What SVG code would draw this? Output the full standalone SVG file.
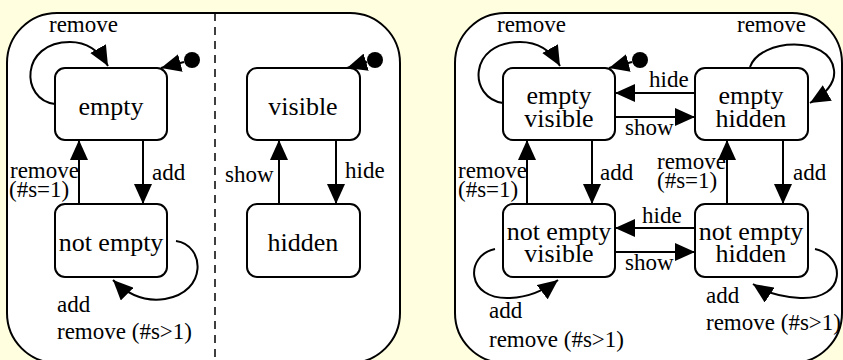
<svg xmlns="http://www.w3.org/2000/svg" width="843" height="360" viewBox="0 0 843 360" font-family="'Liberation Serif', 'Times New Roman', serif">
<defs>
<marker id="ah" markerUnits="userSpaceOnUse" markerWidth="20" markerHeight="18" refX="20" refY="9" orient="auto">
<path d="M0,0 L20,9 L0,18 z" fill="#000"/>
</marker>
<style>
.panel{fill:#fff;stroke:#000;stroke-width:2}
.node{fill:#fff;stroke:#000;stroke-width:2}
text{font-family:'Liberation Serif','Times New Roman',serif}
.nt{font-size:26px;text-anchor:middle;fill:#000}
.lb{font-size:23px;fill:#000}
.c{fill:none;stroke:#000;stroke-width:2;marker-end:url(#ah)}
.init{fill:#000}
</style>
</defs>
<rect width="843" height="360" fill="#ffffe0"/>
<g id="panel-left"><rect class="panel" x="7" y="13" width="393" height="350" rx="50"/>
<line x1="215" y1="13" x2="215" y2="362" stroke="#000" stroke-width="1.5" stroke-dasharray="8,6"/></g>
<g id="panel-right"><rect class="panel" x="455" y="13" width="387" height="350" rx="50"/></g>

<g id="empty"><rect class="node" x="55" y="68" width="112" height="72" rx="10"/><text class="nt" x="111" y="115">empty</text></g>
<g id="notempty"><rect class="node" x="55" y="204" width="112" height="73" rx="10"/><text class="nt" x="111" y="251">not empty</text></g>
<g id="visible"><rect class="node" x="247" y="68" width="113" height="72" rx="10"/><text class="nt" x="303" y="115">visible</text></g>
<g id="hidden"><rect class="node" x="247" y="204" width="113" height="73" rx="10"/><text class="nt" x="303" y="251">hidden</text></g>
<g id="init1"><circle class="init" cx="192" cy="60" r="8"/></g>
<g id="init2"><circle class="init" cx="375" cy="60" r="8"/></g>

<g id="empty-visible"><rect class="node" x="503" y="68" width="112" height="72" rx="10"/><text class="nt" x="559" y="104">empty</text><text class="nt" x="559" y="127">visible</text></g>
<g id="empty-hidden"><rect class="node" x="695" y="68" width="113" height="72" rx="10"/><text class="nt" x="751" y="104">empty</text><text class="nt" x="751" y="127">hidden</text></g>
<g id="notempty-visible"><rect class="node" x="503" y="204" width="112" height="73" rx="10"/><text class="nt" x="559" y="240">not empty</text><text class="nt" x="559" y="262">visible</text></g>
<g id="notempty-hidden"><rect class="node" x="695" y="204" width="113" height="73" rx="10"/><text class="nt" x="751" y="240">not empty</text><text class="nt" x="751" y="262">hidden</text></g>
<g id="init3"><circle class="init" cx="640" cy="60" r="8"/></g>

<g id="connectors">
<path class="c" d="M55,104 C20,100 20,42 70,42 C88,42 100,52 108,66"/>
<path class="c" d="M184,62 L161,68"/>
<path class="c" d="M143,140 L143,204"/>
<path class="c" d="M79,204 L79,140"/>
<path class="c" d="M176,241 C205,245 208,292 165,299 C145,302 128,295 113,280"/>
<path class="c" d="M367,62 L347,68"/>
<path class="c" d="M279,204 L279,140"/>
<path class="c" d="M336,140 L336,204"/>

<path class="c" d="M503,103 C468,98 468,42 520,42 C540,42 552,52 560,66"/>
<path class="c" d="M632,62 L609,68"/>
<path class="c" d="M695,93 L615,93"/>
<path class="c" d="M615,117 L695,117"/>
<path class="c" d="M592,140 L592,204"/>
<path class="c" d="M527,204 L527,140"/>
<path class="c" d="M750,67 C760,38 830,35 834,70 C836,85 822,96 810,103"/>
<path class="c" d="M727,204 L727,140"/>
<path class="c" d="M783,140 L783,204"/>
<path class="c" d="M695,228 L615,228"/>
<path class="c" d="M615,252 L695,252"/>
<path class="c" d="M495,249 C465,255 465,300 510,298 C530,297 545,290 558,280"/>
<path class="c" d="M815,249 C845,255 848,300 800,298 C780,297 765,292 753,284"/>
</g>

<g id="labels">
<text class="lb" x="49" y="32">remove</text>
<text class="lb" x="10" y="178">remove</text>
<text class="lb" x="9" y="197">(#s=1)</text>
<text class="lb" x="152" y="180">add</text>
<text class="lb" x="57" y="312">add</text>
<text class="lb" x="57" y="339">remove (#s&gt;1)</text>
<text class="lb" x="225" y="182">show</text>
<text class="lb" x="345" y="178">hide</text>

<text class="lb" x="497" y="32">remove</text>
<text class="lb" x="737" y="32">remove</text>
<text class="lb" x="649" y="87">hide</text>
<text class="lb" x="625" y="135">show</text>
<text class="lb" x="458" y="178">remove</text>
<text class="lb" x="458" y="197">(#s=1)</text>
<text class="lb" x="600" y="180">add</text>
<text class="lb" x="657" y="169">remove</text>
<text class="lb" x="657" y="188">(#s=1)</text>
<text class="lb" x="793" y="180">add</text>
<text class="lb" x="642" y="223">hide</text>
<text class="lb" x="625" y="270">show</text>
<text class="lb" x="489" y="318">add</text>
<text class="lb" x="489" y="347">remove (#s&gt;1)</text>
<text class="lb" x="706" y="303">add</text>
<text class="lb" x="706" y="330">remove (#s&gt;1)</text>
</g>
</svg>
